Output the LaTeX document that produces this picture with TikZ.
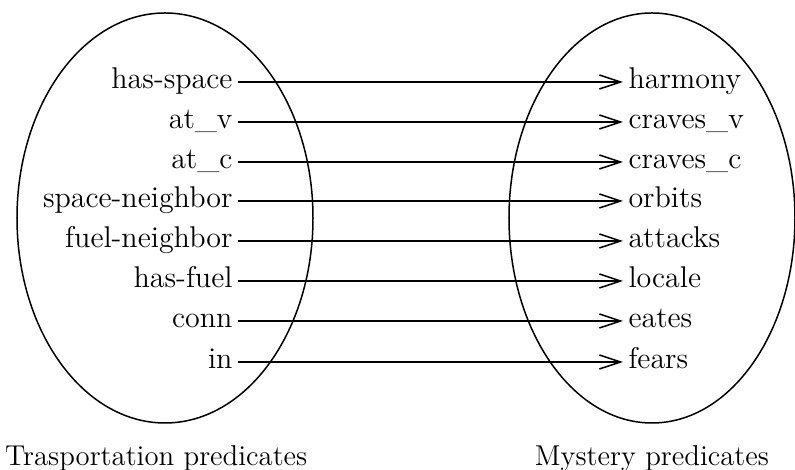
\documentclass[tikz,border=0pt]{standalone}
\usetikzlibrary{shapes.geometric, arrows.meta, positioning}

\begin{document}
\begin{tikzpicture}[
    x=0.4pt, y=-0.4pt,
    set/.style={ellipse, draw, line width=0.6pt, minimum height=164pt, inner sep=0pt},
    pred/.style={font=\fontsize{12}{14}\selectfont, text height=1.5ex, text depth=.25ex, inner sep=2pt},
    srcpred/.style={pred, anchor=east},
    dstpred/.style={pred, anchor=west},
    caption/.style={font=\fontsize{11.5}{14}\selectfont},
    arrow/.style={-{Straight Barb[length=8.5pt, width=5.6pt]}, line width=0.6pt}
]
\useasboundingbox (0,0) rectangle (795,470);

\node[set, minimum width=118.4pt] (trans) at (165,218) {};
\node[set, minimum width=114.4pt] (mystery) at (652,218) {};

% transportation side
\node[srcpred] (hasspace) at (238,82) {has-space};
\node[srcpred] (atv) at (238,122) {at\_v};
\node[srcpred] (atc) at (238,162) {at\_c};
\node[srcpred] (spaceneighbor) at (238,201) {space-neighbor};
\node[srcpred] (fuelneighbor) at (238,241) {fuel-neighbor};
\node[srcpred] (hasfuel) at (238,281) {has-fuel};
\node[srcpred] (conn) at (238,321) {conn};
\node[srcpred] (inn) at (238,362) {in};

% mystery side
\node[dstpred] (harmony) at (623,82) {harmony};
\node[dstpred] (cravesv) at (623,122) {craves\_v};
\node[dstpred] (cravesc) at (623,162) {craves\_c};
\node[dstpred] (orbits) at (623,201) {orbits};
\node[dstpred] (attacks) at (623,241) {attacks};
\node[dstpred] (locale) at (623,281) {locale};
\node[dstpred] (eates) at (623,321) {eates};
\node[dstpred] (fears) at (623,362) {fears};

\draw[arrow] (hasspace) -- (harmony);
\draw[arrow] (atv) -- (cravesv);
\draw[arrow] (atc) -- (cravesc);
\draw[arrow] (spaceneighbor) -- (orbits);
\draw[arrow] (fuelneighbor) -- (attacks);
\draw[arrow] (hasfuel) -- (locale);
\draw[arrow] (conn) -- (eates);
\draw[arrow] (inn) -- (fears);

\node[caption, below=5pt of trans, xshift=-3.5pt] (transcap) {Trasportation predicates};
\node[caption, below=5pt of mystery] (mysterycap) {Mystery predicates};

\end{tikzpicture}
\end{document}
